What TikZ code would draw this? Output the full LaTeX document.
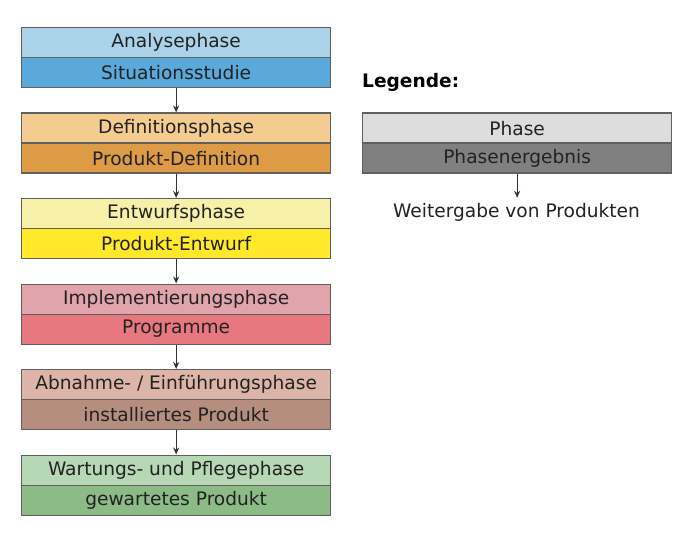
\documentclass[tikz,border=0pt]{standalone}
\usepackage{fontspec}
\setmainfont{DejaVu Sans}
\usetikzlibrary{arrows.meta}
\definecolor{c1a}{HTML}{AAD3EA}\definecolor{c1b}{HTML}{5AA9DA}
\definecolor{c2a}{HTML}{F5CC90}\definecolor{c2b}{HTML}{DD9B45}
\definecolor{c3a}{HTML}{F7F0A8}\definecolor{c3b}{HTML}{FFE92A}
\definecolor{c4a}{HTML}{E0A4AA}\definecolor{c4b}{HTML}{E87880}
\definecolor{c5a}{HTML}{DDB5A8}\definecolor{c5b}{HTML}{B58E80}
\definecolor{c6a}{HTML}{B6D8B4}\definecolor{c6b}{HTML}{8CBB88}
\definecolor{l1}{HTML}{DDDDDD}\definecolor{l2}{HTML}{808080}
\definecolor{bord}{HTML}{606060}\definecolor{txt}{HTML}{222222}
\begin{document}
\begin{tikzpicture}[x=1pt,y=-1pt,
  pbox/.style={draw=bord,line width=1.3pt,minimum width=309pt,minimum height=30pt,inner sep=0pt,anchor=north west,text=txt,font=\fontsize{18.6}{21}\selectfont},
  flow/.style={draw=black!80,line width=1.3pt,-{Stealth[length=7pt,width=6pt]}}]
\useasboundingbox (0,0) rectangle (700,545);
\node[pbox,fill=c1a] (p1) at (21,27) {Analysephase};
\node[pbox,fill=c1b] (r1) at (21,57) {Situationsstudie};
\node[pbox,fill=c2a] (p2) at (21,112.5) {Definitionsphase};
\node[pbox,fill=c2b] (r2) at (21,142.5) {Produkt-Definition};
\node[pbox,fill=c3a] (p3) at (21,198) {Entwurfsphase};
\node[pbox,fill=c3b] (r3) at (21,228) {Produkt-Entwurf};
\node[pbox,fill=c4a] (p4) at (21,283.5) {Implementierungsphase};
\node[pbox,fill=c4b] (r4) at (21,313.5) {Programme};
\node[pbox,fill=c5a] (p5) at (21,369) {Abnahme- / Einführungsphase};
\node[pbox,fill=c5b] (r5) at (21,399) {installiertes Produkt};
\node[pbox,fill=c6a] (p6) at (21,454.5) {Wartungs- und Pflegephase};
\node[pbox,fill=c6b] (r6) at (21,484.5) {gewartetes Produkt};
\draw[flow] (r1.south) -- (p2.north);
\draw[flow] (r2.south) -- (p3.north);
\draw[flow] (r3.south) -- (p4.north);
\draw[flow] (r4.south) -- (p5.north);
\draw[flow] (r5.south) -- (p6.north);
\node[anchor=west,inner sep=0pt,text=black,font=\bfseries\fontsize{18.6}{21}\selectfont] (leg) at (362,82) {Legende:};
\node[pbox,fill=l1] (lp) at (362,112.5) {Phase};
\node[pbox,fill=l2] (lr) at (362,142.5) {Phasenergebnis};
\node[anchor=north,inner sep=0pt,text=txt,font=\fontsize{18.6}{21}\selectfont] (lt) at (516.5,203) {Weitergabe von Produkten};
\draw[flow] (lr.south) -- ++(0,24) coordinate (le);
\end{tikzpicture}
\end{document}
